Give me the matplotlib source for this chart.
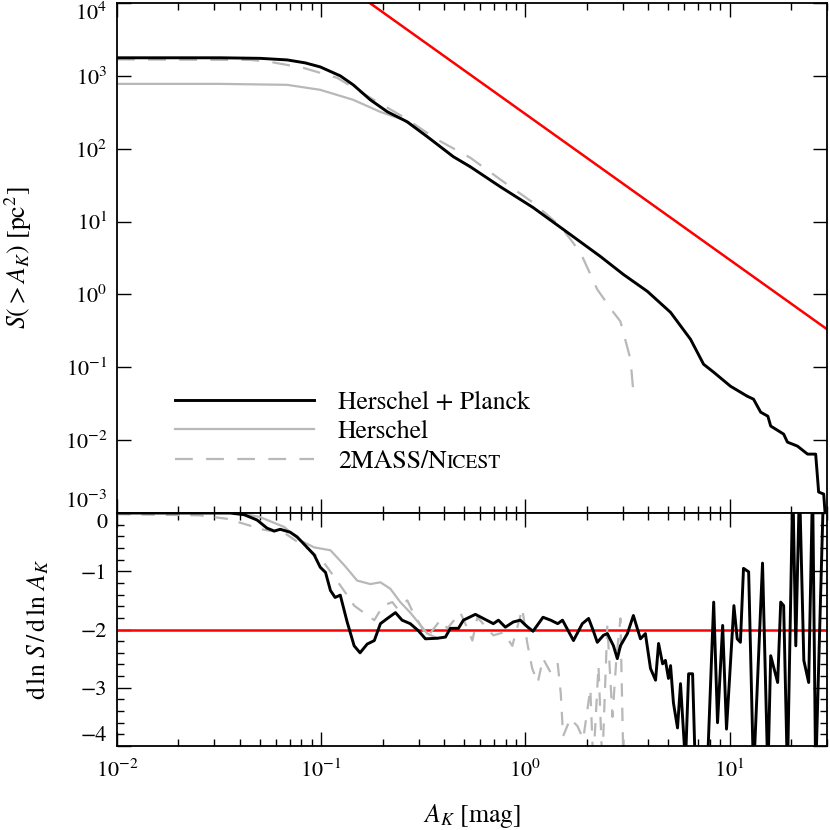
import matplotlib
matplotlib.use("Agg")
import matplotlib.pyplot as plt
from matplotlib.ticker import NullLocator, MultipleLocator

plt.rcParams["font.family"] = "STIXGeneral"
plt.rcParams["mathtext.fontset"] = "stix"
plt.rcParams["font.size"] = 16

# ---------------------------------------------------------------------------
# Data: cumulative area S(>A_K) [pc^2]
# ---------------------------------------------------------------------------

hp_ak = [0.0100, 0.0320, 0.0502, 0.0681, 0.0835, 0.0989, 0.124, 0.1435, 0.174,
         0.211, 0.264, 0.331, 0.444, 0.537, 0.753, 1.09, 1.61, 2.33, 3.02,
         3.96, 5.14, 6.44, 7.46, 8.36, 10.1, 12.2, 13.1, 14.2, 15.4, 15.9,
         18.4, 19.2, 21.5, 24.1, 26.4, 27.3, 28.9, 29.9]
hp_s = [1770, 1770, 1740, 1655, 1507, 1327, 1000, 753, 469,
        321, 234, 146, 77.6, 56.6, 30.1, 15.6, 7.07, 3.32, 1.88,
        1.10, 0.567, 0.242, 0.110, 0.0855, 0.0550, 0.0401, 0.0365, 0.0242,
        0.0213, 0.0156, 0.0121, 0.00939, 0.00828, 0.00643, 0.00643, 0.00194,
        0.00182, 0.0005]

her_ak = [0.0100, 0.0320, 0.0681, 0.0989, 0.1435, 0.1945, 0.252, 0.331,
          0.444, 0.537]
her_s = [776, 776, 753, 643, 469, 321, 250, 146, 77.6, 56.6]

nic_ak = [0.0100, 0.0449, 0.0562, 0.0817, 0.1197, 0.174, 0.252, 0.371,
          0.537, 0.780, 1.09, 1.49, 1.86, 2.25, 2.70, 2.92, 3.27, 3.38]
nic_s = [1683, 1655, 1556, 1288, 940, 500, 274, 133,
         75.3, 35.3, 18.2, 8.55, 3.76, 1.17, 0.567, 0.426, 0.129, 0.0455]

# reference power law S ~ A_K^-2
ref_ak = [0.15, 30.0]
ref_s = [1.33e4, 0.333]
REF_SLOPE = -2

# ---------------------------------------------------------------------------
# Data: logarithmic slope d ln S / d ln A_K
# ---------------------------------------------------------------------------

hp_slope_ak = [0.0100, 0.0358, 0.0420, 0.0485, 0.0543, 0.0589, 0.0630, 0.0705,
               0.0762, 0.0853, 0.0924, 0.0989, 0.105, 0.111, 0.117, 0.124,
               0.134, 0.145, 0.155, 0.168, 0.182, 0.195, 0.211, 0.231, 0.249,
               0.273, 0.299, 0.324, 0.371, 0.406, 0.429, 0.470, 0.497, 0.569,
               0.622, 0.697, 0.738, 0.798, 0.873, 0.944, 1.02, 1.09, 1.22,
               1.33, 1.44, 1.52, 1.72, 1.90, 2.04, 2.15, 2.25, 2.41, 2.52,
               2.70, 2.82, 2.92, 3.16, 3.38, 3.66, 3.87, 4.10, 4.34, 4.49,
               4.70, 4.85, 5.02, 5.14, 5.31, 5.56, 5.75, 6.08, 6.30, 6.59,
               6.81, 7.80, 8.36, 8.73, 9.25, 9.66, 10.5, 10.9, 11.3, 11.7,
               12.4, 13.1, 14.5, 15.4, 15.9, 17.2, 17.8, 18.4, 19.2, 20.4,
               21.1, 22.0, 23.1, 24.4, 25.5, 26.4, 28.9]
hp_slope = [0.0, 0.0, -0.03, -0.12, -0.26, -0.31, -0.28, -0.33,
            -0.41, -0.59, -0.72, -0.93, -1.02, -1.33, -1.45, -1.41,
            -1.87, -2.28, -2.40, -2.25, -2.19, -1.90, -1.81, -1.71, -1.84,
            -1.90, -2.02, -2.16, -2.15, -2.13, -1.98, -1.98, -1.84, -1.74,
            -1.81, -1.90, -1.84, -1.96, -1.87, -1.84, -1.95, -2.03, -1.79,
            -1.84, -1.90, -1.84, -2.19, -1.90, -1.81, -2.02, -2.22, -2.10, -2.07,
            -2.28, -2.50, -2.28, -2.07, -1.76, -2.16, -2.07, -2.67, -2.87, -2.24,
            -2.59, -2.53, -2.84, -2.62, -3.26, -3.69, -2.93, -4.3, -2.76, -2.76,
            -4.5, -4.3, -1.53, -3.60, -1.93, -3.71, -1.59, -2.16, -2.22, -0.95,
            -1.01, -4.5, -0.86, -4.5, -2.45, -2.91, -1.53, -1.59, -4.5, 0.5,
            -2.28, 0.5, -2.53, -2.91, 0.5, -4.5, 0.5]

her_slope_ak = [0.0100, 0.0401, 0.0502, 0.0659, 0.0789, 0.0924, 0.111, 0.130,
                0.150, 0.174, 0.195, 0.218, 0.244, 0.273, 0.299, 0.331, 0.371]
her_slope = [0.0, 0.0, -0.07, -0.24, -0.47, -0.59, -0.64, -0.90,
             -1.16, -1.22, -1.19, -1.30, -1.53, -1.71, -1.88, -2.07, -2.15]

nic_slope_ak = [0.0100, 0.0255, 0.0346, 0.0526, 0.0659, 0.0762, 0.0883, 0.1035,
                0.116, 0.134, 0.145, 0.163, 0.182, 0.201, 0.223, 0.236, 0.264,
                0.282, 0.331, 0.383, 0.415, 0.480, 0.520, 0.550, 0.582, 0.697,
                0.780, 0.863, 0.966, 1.02, 1.08, 1.15, 1.22, 1.33, 1.44, 1.49,
                1.53, 1.66, 1.80, 1.92, 2.08, 2.15, 2.28, 2.38, 2.52, 2.67,
                2.79, 2.92, 3.02]
nic_slope = [-0.02, -0.04, -0.10, -0.29, -0.34, -0.49, -0.64, -0.86,
             -1.10, -1.41, -1.59, -1.72, -1.84, -1.59, -1.53, -1.64, -1.50,
             -1.71, -2.13, -1.84, -1.98, -1.71, -1.98, -2.19, -1.79, -2.10,
             -2.05, -2.28, -1.64, -2.22, -2.67, -2.91, -2.50, -2.74, -2.59, -3.09,
             -3.83, -3.53, -3.66, -3.88, -3.02, -4.3, -2.62, -4.3, -1.93, -3.5,
             -2.5, -1.81, -4.3]

GREY = "#b8b8b8"
RED = "#ff0000"
LABEL_SIZE = 18.5

# ---------------------------------------------------------------------------
# Figure
# ---------------------------------------------------------------------------

fig, (ax, ax2) = plt.subplots(
    2, 1, sharex=True, figsize=(8.3, 8.3), dpi=100,
    gridspec_kw={"height_ratios": [510, 233]},
)
fig.subplots_adjust(left=117 / 830, right=827 / 830, top=1 - 3 / 830,
                    bottom=1 - 746 / 830, hspace=0)

# top panel
ax.plot(ref_ak, ref_s, color=RED, lw=1.8)
ax.plot(her_ak, her_s, color=GREY, lw=1.6, label="Herschel")
ax.plot(nic_ak, nic_s, color=GREY, lw=1.6, dashes=(8, 6), label="2MASS/N")
ax.plot(hp_ak, hp_s, color="black", lw=2.1, label="Herschel + Planck")

ax.set_xscale("log")
ax.set_yscale("log")
ax.set_xlim(0.01, 30)
ax.set_ylim(1e-3, 1e4)
ax.set_yticks([1e-3, 1e-2, 1e-1, 1e0, 1e1, 1e2, 1e3, 1e4])
ax.yaxis.set_minor_locator(NullLocator())
ax.set_ylabel(r"$S(>A_K)$ [pc$^2$]", fontsize=LABEL_SIZE, labelpad=22)
ax.tick_params(labelbottom=False)

handles, labels = ax.get_legend_handles_labels()
order = [2, 0, 1]
leg = ax.legend([handles[i] for i in order], [labels[i] for i in order],
                loc="center left", bbox_to_anchor=(0.082, 0.158),
                frameon=False, borderpad=0, borderaxespad=0,
                handlelength=5.4, handletextpad=0.93, labelspacing=0.22,
                fontsize=LABEL_SIZE)

# bottom panel
ax2.axhline(REF_SLOPE, color=RED, lw=1.8)
ax2.plot(her_slope_ak, her_slope, color=GREY, lw=1.6)
ax2.plot(nic_slope_ak, nic_slope, color=GREY, lw=1.6, dashes=(6, 5))
ax2.plot(hp_slope_ak, hp_slope, color="black", lw=2.1)
ax2.set_ylim(-4, 0)
ax2.set_yticks([-4, -3, -2, -1, 0])
ax2.yaxis.set_minor_locator(MultipleLocator(0.2))
ax2.set_ylabel(r"$\mathrm{d}\,\ln\,S\,/\,\mathrm{d}\,\ln\,A_K$",
               fontsize=LABEL_SIZE, labelpad=21)
ax2.set_xlabel(r"$A_K$ [mag]", fontsize=LABEL_SIZE, labelpad=14)

for a in (ax, ax2):
    a.tick_params(which="both", direction="in", top=True, right=True,
                  labelsize=16, width=1.0)
    a.tick_params(which="major", length=10)
    a.tick_params(which="minor", length=5)
    a.tick_params(axis="x", pad=10)
    a.tick_params(axis="y", pad=7)
    for sp in a.spines.values():
        sp.set_linewidth(1.3)

# keep the end labels inside their panel
for a in (ax, ax2):
    lbls = a.get_yticklabels()
    lbls[0].set_verticalalignment("bottom")
    lbls[-1].set_verticalalignment("top")

# small caps tail of "NICEST"
fig.canvas.draw()
renderer = fig.canvas.get_renderer()
txt = leg.get_texts()[2]
bb = txt.get_window_extent(renderer)
_, _, desc = renderer.get_text_width_height_descent(
    "lp", txt.get_fontproperties(), ismath=False)
W, H = fig.get_size_inches() * fig.dpi
fig.text(bb.x1 / W, (bb.y0 + desc) / H, "ICEST", fontsize=14,
         ha="left", va="baseline")

fig.savefig("out.png", dpi=100)
